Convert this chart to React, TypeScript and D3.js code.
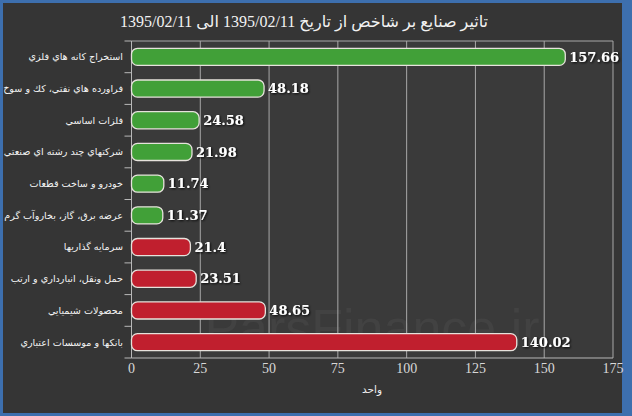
import React from "react";
import * as d3 from "d3";

const title = "تاثير صنايع بر شاخص از تاريخ 1395/02/11 الی 1395/02/11";
const xAxisTitle = "واحد";
const watermark = "ParsFinance.ir";

const categories = [
  "استخراج كانه هاي فلزي",
  "فراورده هاي نفتي، كك و سوخ",
  "فلزات اساسي",
  "شركتهاي چند رشته اي صنعتي",
  "خودرو و ساخت قطعات",
  "عرضه برق، گاز، بخاروآب گرم",
  "سرمايه گذاريها",
  "حمل ونقل، انبارداري و ارتب",
  "محصولات شيميايي",
  "بانكها و موسسات اعتباري",
];
const values = [157.66, 48.18, 24.58, 21.98, 11.74, 11.37, 21.4, 23.51, 48.65, 140.02];
const groups = ["up", "up", "up", "up", "up", "up", "down", "down", "down", "down"];
const xTicks = [0, 25, 50, 75, 100, 125, 150, 175];

const W = 632;
const H = 416;
const plot = { left: 131.5, right: 613, top: 41, bottom: 358 };
const colorOf: Record<string, string> = { up: "#41a038", down: "#c01f2e" };

export default function App() {
  const x = d3.scaleLinear().domain([0, 175]).range([plot.left, plot.right]);
  const y = d3
    .scaleBand<string>()
    .domain(categories)
    .range([plot.top, plot.bottom])
    .paddingInner(0.46)
    .paddingOuter(0.23);
  const bw = y.bandwidth();
  const step = y.step();
  const boundaries = d3.range(categories.length + 1).map((i) => plot.top + i * step);

  return (
    <svg
      width={W}
      height={H}
      style={{ position: "fixed", left: 0, top: 0, display: "block" }}
    >
      <defs>
        <filter id="shadow" x="-20%" y="-40%" width="140%" height="180%">
          <feDropShadow dx="1" dy="1" stdDeviation="0.8" floodColor="#000" floodOpacity="0.9" />
        </filter>
      </defs>
      <rect x={0} y={0} width={W} height={H} fill="#3d6fae" />
      <rect x={3} y={3} width={619} height={410} fill="#353535" />
      <rect
        x={plot.left}
        y={plot.top}
        width={plot.right - plot.left}
        height={plot.bottom - plot.top}
        fill="#3a3a3a"
      />
      {/* watermark */}
      <text
        x={372}
        y={346}
        textAnchor="middle"
        fontFamily="'Liberation Sans', Arial, sans-serif"
        fontSize={52}
        fill="#424242"
      >
        {watermark}
      </text>
      {/* title */}
      <text
        x={304}
        y={27}
        textAnchor="middle"
        fontFamily="'Liberation Serif', 'DejaVu Sans', serif"
        fontSize={16}
        fill="#f2f2f2"
      >
        {title}
      </text>
      {/* grid */}
      {xTicks.map((t) => (
        <line key={"g" + t} x1={x(t)} x2={x(t)} y1={plot.top} y2={plot.bottom} stroke="#a8a8a8" strokeWidth={1} />
      ))}
      <line x1={plot.left} x2={plot.right} y1={plot.top} y2={plot.top} stroke="#a8a8a8" strokeWidth={1} />
      {/* y axis */}
      <line x1={plot.left} x2={plot.left} y1={plot.top} y2={plot.bottom} stroke="#b8b8b8" strokeWidth={1} />
      {boundaries.map((b, i) => (
        <line key={"yt" + i} x1={plot.left - 7} x2={plot.left} y1={b} y2={b} stroke="#b8b8b8" strokeWidth={1} />
      ))}
      {/* x axis */}
      <line x1={plot.left} x2={plot.right} y1={plot.bottom} y2={plot.bottom} stroke="#b8b8b8" strokeWidth={1} />
      {xTicks.map((t) => (
        <text
          key={"xl" + t}
          x={x(t)}
          y={373}
          textAnchor="middle"
          fontFamily="'Liberation Serif', serif"
          fontSize={14}
          fill="#d8d8d8"
        >
          {t}
        </text>
      ))}
      <text
        x={372}
        y={393}
        textAnchor="middle"
        fontFamily="'DejaVu Sans', sans-serif"
        fontSize={10.5}
        fill="#f0f0f0"
      >
        {xAxisTitle}
      </text>
      {/* bars */}
      {categories.map((c, i) => (
        <rect
          key={"b" + i}
          x={x(0)}
          y={y(c)!}
          width={x(values[i]) - x(0)}
          height={bw}
          rx={6}
          ry={6}
          fill={colorOf[groups[i]]}
          stroke="#e6e2dc"
          strokeWidth={1.3}
        />
      ))}
      {/* category labels */}
      {categories.map((c, i) => (
        <text
          key={"c" + i}
          x={123}
          y={y(c)! + bw / 2}
          dy="0.35em"
          textAnchor="end"
          fontFamily="'DejaVu Sans', sans-serif"
          fontSize={9.6}
          fill="#f4f4f4"
        >
          {c}
        </text>
      ))}
      {/* value labels */}
      {categories.map((c, i) => (
        <text
          key={"v" + i}
          x={x(values[i]) + 4}
          y={y(c)! + bw / 2}
          dy="0.36em"
          fontFamily="'DejaVu Serif', serif"
          fontWeight="bold"
          fontSize={13}
          fill="#ffffff"
          filter="url(#shadow)"
        >
          {values[i]}
        </text>
      ))}
    </svg>
  );
}
